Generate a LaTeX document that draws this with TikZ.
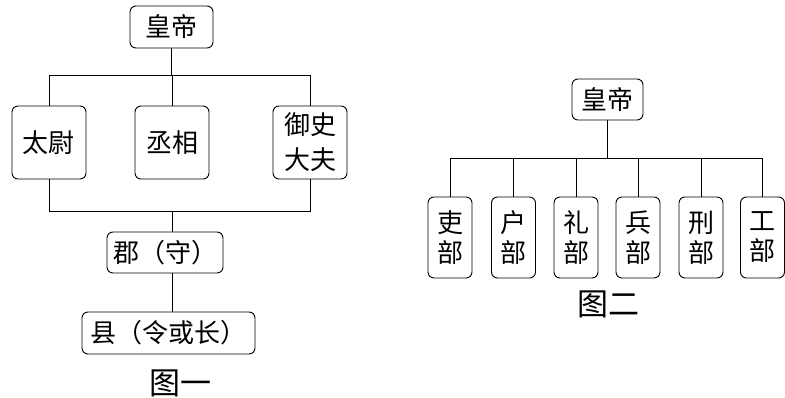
\documentclass[tikz,border=0pt]{standalone}
\usepackage{fontspec}
\setmainfont{Noto Sans CJK SC}[Scale=1]
\begin{document}
\begin{tikzpicture}[x=1pt,y=-1pt,
  box/.style={draw, rounded corners=6pt, line width=0.9pt, inner sep=0pt, align=center, font=\fontsize{26}{30}\selectfont},
  ln/.style={line width=0.9pt},
  captext/.style={inner sep=0pt, font=\fontsize{31}{34}\selectfont}]
\useasboundingbox (0,0) rectangle (785,398);
% Figure 1
\node[box, minimum width=83pt, minimum height=42pt] (emp1) at (171.5,27) {皇帝};
\node[box, minimum width=74pt, minimum height=73pt] (taiwei) at (49,142.5) {太尉};
\node[box, minimum width=74pt, minimum height=73pt] (cheng) at (172,142.5) {丞相};
\node[box, minimum width=74pt, minimum height=73pt, font=\fontsize{26}{35}\selectfont] (yushi) at (310,142.5) {御史\\大夫};
\node[box, minimum width=116pt, minimum height=41pt] (jun) at (165,252.5) {郡（守）};
\node[box, minimum width=173pt, minimum height=42pt] (xian) at (168.5,333) {县（令或长）};
\node[captext] (cap1) at (180,383) {图一};
\coordinate (b1) at (172,75);
\coordinate (b2) at (172,211);
\draw[ln] (emp1.south) -- (emp1.south |- b1);
\draw[ln] (taiwei.north) |- (yushi.north |- b1) -- (yushi.north);
\draw[ln] (cheng.north) -- (cheng.north |- b1);
\draw[ln] (taiwei.south) |- (yushi.south |- b2) -- (yushi.south);
\draw[ln] (b2) -- (b2 |- jun.north);
\draw[ln] (b2 |- jun.south) -- (b2 |- xian.north);
% Figure 2
\node[box, minimum width=71pt, minimum height=41pt] (emp2) at (607.5,99.5) {皇帝};
\tikzset{bu/.style={box, minimum width=44pt, minimum height=81pt}}
\node[bu] (li) at (450,237.5) {吏\\部};
\node[bu] (hu) at (513.5,237.5) {户\\部};
\node[bu] (lii) at (576,237.5) {礼\\部};
\node[bu] (bing) at (638,237.5) {兵\\部};
\node[bu] (xing) at (701,237.5) {刑\\部};
\node[bu] (gong) at (762.5,237.5) {工\\部};
\node[captext] (cap2) at (608,304) {图二};
\coordinate (b3) at (607.5,158);
\draw[ln] (emp2.south) -- (emp2.south |- b3);
\draw[ln] (li.north) |- (gong.north |- b3) -- (gong.north);
\foreach \n in {hu,lii,bing,xing}{\draw[ln] (\n.north) -- (\n.north |- b3);}
\end{tikzpicture}
\end{document}
